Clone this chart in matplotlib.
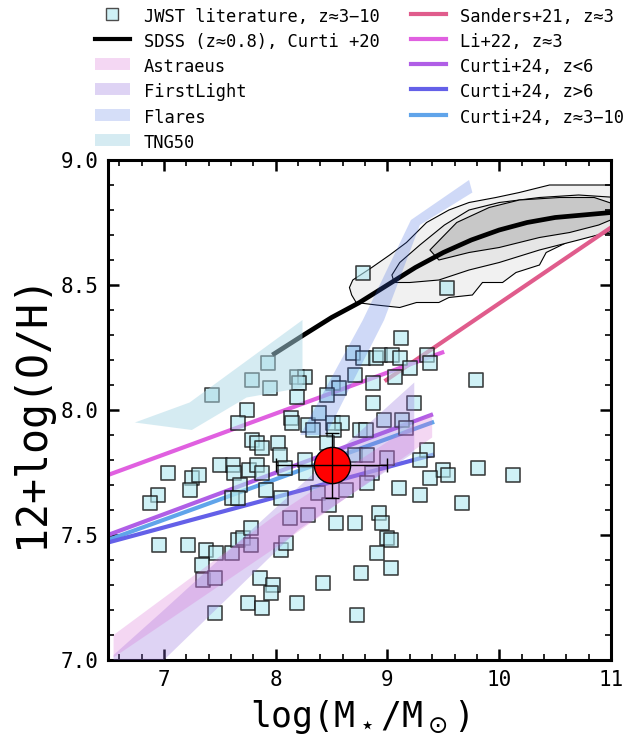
import matplotlib
matplotlib.use("Agg")
import matplotlib.pyplot as plt
from matplotlib.lines import Line2D
from matplotlib.patches import Polygon
import numpy as np

plt.rcParams['font.family'] = ['DejaVu Sans Mono', 'DejaVu Sans']

# ---------------- data ----------------
jwst_logM = [8.78, 9.53, 7.93, 7.43, 7.79, 7.95, 8.19, 8.26, 8.21, 8.19, 8.51, 8.57, 8.46, 8.69, 8.71,
             8.78, 8.90, 8.93, 9.04, 9.11, 9.12, 9.35, 9.38, 9.20, 9.07, 8.87, 9.79, 8.87, 9.24, 7.74,
             7.66, 8.14, 8.15, 8.29, 8.39, 8.33, 8.51, 8.59, 8.52, 8.46, 7.79, 7.83, 7.88, 8.02, 8.04,
             7.50, 7.62, 7.63, 7.76, 7.83, 7.88, 8.08, 8.26, 8.27, 7.04, 7.25, 7.31, 7.23, 6.95, 6.88,
             7.68, 7.61, 7.66, 7.91, 8.05, 8.38, 8.48, 8.13, 8.29, 8.63, 8.54, 8.71, 6.96, 7.22, 7.38,
             7.47, 7.61, 7.66, 7.71, 7.78, 7.78, 8.05, 8.09, 7.34, 7.35, 7.46, 7.86, 7.98, 7.96, 7.75,
             7.88, 8.19, 8.42, 7.46, 8.73, 8.76, 8.97, 9.13, 9.17, 8.75, 8.81, 8.71, 8.82, 9.00, 9.35,
             9.29, 9.50, 9.54, 9.38, 9.81, 10.12, 8.86, 8.82, 9.10, 9.29, 9.67, 8.92, 8.95, 9.00, 9.03,
             8.91, 9.03]
jwst_OH = [8.55, 8.49, 8.19, 8.06, 8.12, 8.09, 8.13, 8.13, 8.11, 8.05, 8.11, 8.09, 8.06, 8.23, 8.14,
           8.21, 8.21, 8.22, 8.22, 8.21, 8.29, 8.22, 8.19, 8.17, 8.13, 8.11, 8.12, 8.03, 8.03, 8.00,
           7.95, 7.97, 7.95, 7.94, 7.99, 7.92, 7.95, 7.95, 7.92, 7.87, 7.88, 7.87, 7.85, 7.87, 7.82,
           7.78, 7.78, 7.75, 7.76, 7.78, 7.75, 7.77, 7.80, 7.75, 7.75, 7.73, 7.74, 7.68, 7.66, 7.63,
           7.70, 7.65, 7.65, 7.68, 7.65, 7.67, 7.62, 7.57, 7.58, 7.68, 7.55, 7.55, 7.46, 7.46, 7.44,
           7.43, 7.43, 7.48, 7.49, 7.53, 7.46, 7.44, 7.47, 7.38, 7.32, 7.33, 7.33, 7.30, 7.27, 7.23,
           7.21, 7.23, 7.31, 7.19, 7.18, 7.35, 7.96, 7.96, 7.93, 7.92, 7.92, 7.82, 7.82, 7.81, 7.84,
           7.80, 7.76, 7.74, 7.73, 7.77, 7.74, 7.75, 7.71, 7.69, 7.66, 7.63, 7.59, 7.55, 7.49, 7.48,
           7.43, 7.37]

# stacked point
stack_logM, stack_OH = 8.50, 7.78
stack_xerr, stack_yerr = 0.5, 0.13

# SDSS relation (Curti+20)
sdss_logM = [7.97, 8.25, 8.5, 8.75, 9.0, 9.25, 9.5, 9.75, 10.0, 10.25, 10.5, 10.75, 11.0]
sdss_OH = [8.22, 8.30, 8.37, 8.43, 8.50, 8.57, 8.63, 8.68, 8.72, 8.75, 8.77, 8.78, 8.79]

# SDSS density contours (outer, middle, inner)
cont_outer_x = [8.66, 8.69, 8.86, 9.02, 9.17, 9.35, 9.55, 9.73, 9.97, 10.18, 10.45, 10.65, 10.89, 11.05,
                11.05, 10.87, 10.65, 10.42, 10.36, 10.15, 10.03, 9.85, 9.76, 9.55, 9.46, 9.26, 9.11,
                8.90, 8.72, 8.68]
cont_outer_y = [8.49, 8.52, 8.57, 8.62, 8.67, 8.75, 8.80, 8.83, 8.85, 8.87, 8.90, 8.90, 8.90, 8.90,
                8.71, 8.70, 8.68, 8.63, 8.58, 8.55, 8.51, 8.51, 8.46, 8.45, 8.43, 8.43, 8.41,
                8.42, 8.43, 8.46]
cont_mid_x = [9.04, 9.11, 9.29, 9.51, 9.73, 10.0, 10.36, 10.71, 11.05,
              11.05, 10.71, 10.36, 10.0, 9.73, 9.46, 9.20, 9.06]
cont_mid_y = [8.54, 8.59, 8.66, 8.74, 8.80, 8.83, 8.85, 8.86, 8.85,
              8.72, 8.68, 8.64, 8.59, 8.56, 8.52, 8.51, 8.51]
cont_in_x = [9.38, 9.62, 9.91, 10.18, 10.54, 10.85, 11.05,
             11.05, 10.89, 10.63, 10.36, 10.0, 9.73, 9.46]
cont_in_y = [8.64, 8.75, 8.81, 8.84, 8.85, 8.85, 8.82,
             8.77, 8.74, 8.71, 8.69, 8.65, 8.63, 8.60]

# simulations
tng_x = [6.74, 7.23, 8.24, 8.24, 8.12, 7.74, 7.25]
tng_y = [7.95, 8.03, 8.36, 8.09, 8.08, 8.05, 7.92]
flares_x = [8.22, 8.78, 9.21, 9.73, 9.76, 9.29, 8.97, 8.45]
flares_y = [7.90, 8.36, 8.76, 8.92, 8.87, 8.74, 8.36, 7.90]
fl_logM = [6.55, 7.0, 8.2, 9.24]
fl_up = [7.02, 7.20, 7.69, 8.11]
fl_lo = [6.80, 7.00, 7.52, 7.83]
as_logM = [6.55, 8.0, 9.40]
as_up = [7.10, 7.58, 7.99]
as_lo = [7.01, 7.45, 7.89]

# literature relations (end points)
sanders_x, sanders_y = [8.99, 11.0], [8.12, 8.73]
li_x, li_y = [6.5, 9.49], [7.74, 8.23]
c24lo_x, c24lo_y = [6.5, 9.39], [7.50, 7.98]
c24hi_x, c24hi_y = [6.5, 9.40], [7.47, 7.82]
c24all_x, c24all_y = [6.5, 9.40], [7.48, 7.95]

# ---------------- plot ----------------
fig = plt.figure(figsize=(6.26, 7.36), dpi=100)
ax = fig.add_axes([108/626, 1-660/736, 503/626, 500/736])

ax.add_patch(Polygon(np.column_stack([cont_outer_x, cont_outer_y]), closed=True,
                     facecolor='#f1f1f1', edgecolor='black', lw=0.8, zorder=1))
ax.add_patch(Polygon(np.column_stack([cont_mid_x, cont_mid_y]), closed=True,
                     facecolor='#e6e6e6', edgecolor='black', lw=0.8, zorder=1.1))
ax.add_patch(Polygon(np.column_stack([cont_in_x, cont_in_y]), closed=True,
                     facecolor='#c8c8c8', edgecolor='black', lw=0.8, zorder=1.2))

ax.plot(sdss_logM, sdss_OH, color='black', lw=3.4, zorder=2, solid_capstyle='butt')
ax.plot(sanders_x, sanders_y, color='#e05c8c', lw=3, zorder=2)
ax.plot(li_x, li_y, color='#e060e0', lw=3, zorder=2)
ax.plot(c24lo_x, c24lo_y, color='#b05ee6', lw=3, zorder=2)
ax.plot(c24all_x, c24all_y, color='#60a4ea', lw=3, zorder=2)
ax.plot(c24hi_x, c24hi_y, color='#6460e8', lw=3, zorder=2)

ax.scatter(jwst_logM, jwst_OH, marker='s', s=112, facecolor=(0.69, 0.91, 0.94, 0.6),
           edgecolor=(0.08, 0.08, 0.08, 0.8), linewidth=1.2, zorder=3)

ax.add_patch(Polygon(np.column_stack([tng_x, tng_y]), closed=True,
                     facecolor='#add8e6', alpha=0.5, lw=0, zorder=4))
ax.add_patch(Polygon(np.column_stack([flares_x, flares_y]), closed=True,
                     facecolor='#4169e1', alpha=0.25, lw=0, zorder=4))
ax.fill_between(fl_logM, fl_lo, fl_up, facecolor='#9370db', alpha=0.3, lw=0, zorder=4)
ax.fill_between(as_logM, as_lo, as_up, facecolor='#da70d6', alpha=0.28, lw=0, zorder=4)

ax.scatter([stack_logM], [stack_OH], s=680, c='red', edgecolor='black', lw=1, zorder=10)
ax.errorbar([stack_logM], [stack_OH], xerr=stack_xerr, yerr=stack_yerr, fmt='none',
            ecolor='black', elinewidth=1, capsize=5, zorder=11)

ax.set_xlim(6.5, 11)
ax.set_ylim(7.0, 9.0)
ax.set_xticks([7, 8, 9, 10, 11])
ax.set_xticks(np.arange(6.6, 11.0, 0.2), minor=True)
ax.set_yticks([7.0, 7.5, 8.0, 8.5, 9.0])
ax.set_yticks(np.arange(7.0, 9.0, 0.1), minor=True)
ax.set_yticklabels(['7.0', '7.5', '8.0', '8.5', '9.0'])
ax.tick_params(which='both', direction='in', top=True, right=True, labelsize=15)
ax.tick_params(which='major', length=8, width=1.8, pad=7)
ax.tick_params(which='minor', length=4, width=1.2)
for s in ax.spines.values():
    s.set_linewidth(2.2)

ax.set_xlabel(r'log(M$_\star$/M$_\odot$)', fontsize=25, labelpad=6)
ax.set_ylabel('12+log(O/H)', fontsize=30, labelpad=6)

def band_handle(color, alpha):
    return Line2D([], [], color=color, alpha=alpha, lw=8.6, solid_capstyle='butt')

handles = [
    Line2D([], [], marker='s', ls='none', markersize=9, markerfacecolor=(0.69, 0.91, 0.94, 0.6),
           markeredgecolor=(0.3, 0.3, 0.3), markeredgewidth=1),
    Line2D([], [], color='black', lw=3),
    band_handle('#da70d6', 0.28),
    band_handle('#9370db', 0.3),
    band_handle('#4169e1', 0.22),
    band_handle('#add8e6', 0.5),
    Line2D([], [], color='#e05c8c', lw=3),
    Line2D([], [], color='#e060e0', lw=3),
    Line2D([], [], color='#b05ee6', lw=3),
    Line2D([], [], color='#6460e8', lw=3),
    Line2D([], [], color='#60a4ea', lw=3),
]
labels = ['JWST literature, z\u22483\u221210', 'SDSS (z\u22480.8), Curti +20', 'Astraeus',
          'FirstLight', 'Flares', 'TNG50', 'Sanders+21, z\u22483', 'Li+22, z\u22483',
          'Curti+24, z<6', 'Curti+24, z>6', 'Curti+24, z\u22483\u221210']
fig.legend(handles, labels, ncol=2, loc='upper left', bbox_to_anchor=(86/626, 1 + 3/736),
           frameon=False, fontsize=12.3, borderpad=0, handlelength=2.05, handletextpad=0.82,
           columnspacing=1.87, labelspacing=0.26, handleheight=1.5)

fig.savefig('out.png', dpi=100)
